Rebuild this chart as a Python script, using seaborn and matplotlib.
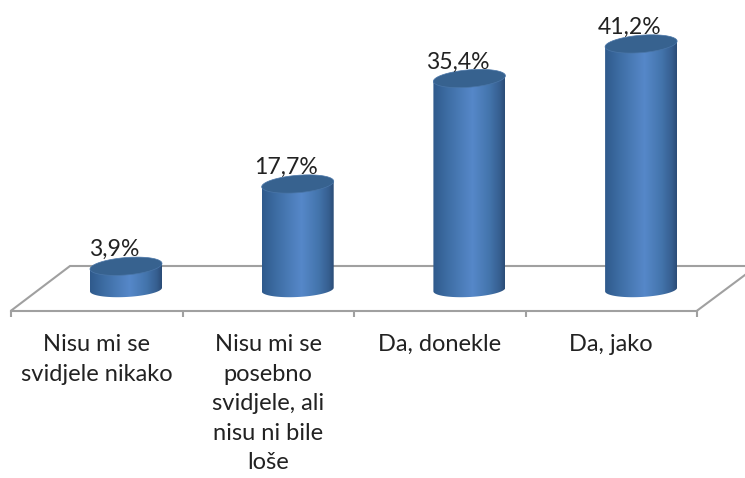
import numpy as np
import matplotlib
matplotlib.use("Agg")
import matplotlib.pyplot as plt
from matplotlib.colors import LinearSegmentedColormap
from matplotlib.patches import Polygon
from matplotlib.ticker import NullFormatter
import seaborn as sns

categories = ["Nisu mi se\nsvidjele nikako",
              "Nisu mi se\nposebno\nsvidjele, ali\nnisu ni bile\nloše",
              "Da, donekle",
              "Da, jako"]
values = [3.9, 17.7, 35.4, 41.2]
value_labels = ["3,9%", "17,7%", "35,4%", "41,2%"]

W, H = 745, 478
sns.set_style("white")
plt.rcParams["font.family"] = ["Lato", "DejaVu Sans"]

fig = plt.figure(figsize=(W / 100, H / 100), dpi=100)
ax = fig.add_axes([0, 0, 1, 1])

# scale: pixels to data
SPACING = 171.7
X0_PX, Y0_PX, PX_PER_UNIT = 126.0, 289.5, 5.96
xp = lambda px: (px - X0_PX) / SPACING
yp = lambda py: (Y0_PX - py) / PX_PER_UNIT

sns.barplot(x=np.arange(len(values)), y=values, native_scale=True,
            width=72 / SPACING, color="#3f6fa8", saturation=1, ax=ax, zorder=2)
ax.set_xlim(xp(0), xp(W))
ax.set_ylim(yp(H), yp(0))
ax.set_xlabel("")
ax.set_ylabel("")

LINE = "#a0a0a0"
LW = 1.5
front = yp(310.7)
back = yp(266)
ax.plot([xp(11), xp(70), xp(760)], [front, back, back], color=LINE, lw=LW, zorder=1, solid_joinstyle="miter")
ax.plot([xp(697), xp(757)], [front, back], color=LINE, lw=LW, zorder=1)

# axis: front edge of the floor
for s in ["top", "left", "right"]:
    ax.spines[s].set_visible(False)
ax.spines["bottom"].set_position(("data", front))
ax.spines["bottom"].set_bounds(xp(11), xp(697))
ax.spines["bottom"].set_color(LINE)
ax.spines["bottom"].set_linewidth(LW)
ax.yaxis.set_visible(False)
bounds_px = np.linspace(11, 697, len(values) + 1)
ax.set_xticks(xp(bounds_px), minor=True)
ax.set_xticks(xp((bounds_px[:-1] + bounds_px[1:]) / 2))
ax.set_xticklabels(categories, fontsize=17, color="#222222", linespacing=1.5)
ax.xaxis.set_minor_formatter(NullFormatter())
ax.tick_params(axis="x", which="major", length=0, pad=17)
ax.tick_params(axis="x", which="minor", length=4.5, width=LW, color=LINE, direction="out", bottom=True)

# cylinders
cmap = LinearSegmentedColormap.from_list("cyl", [
    (0.0, "#2f5a8c"), (0.22, "#3f6fa6"), (0.55, "#5688c9"),
    (0.78, "#4475ad"), (0.93, "#365f90"), (1.0, "#2b4c76")])
grad = np.linspace(0, 1, 256)[None, :]
t = np.linspace(0, 2 * np.pi, 181)
bar_patches = list(ax.patches)
for patch, label in zip(bar_patches, value_labels):
    x0, w, h = patch.get_x(), patch.get_width(), patch.get_height()
    cx, a = x0 + w / 2, w / 2
    b_top, k_top = 8.7 / PX_PER_UNIT, 2.8 / PX_PER_UNIT
    b_bot, k_bot = 7.5 / PX_PER_UNIT, 1.8 / PX_PER_UNIT
    # body outline: top edge plus the lower half of the base ellipse
    tb = np.linspace(np.pi, 2 * np.pi, 91)
    bx = cx + a * np.cos(tb)
    by = b_bot * np.sin(tb) + k_bot * np.cos(tb)
    outline = np.column_stack([
        np.r_[x0, bx, x0 + w],
        np.r_[h - k_top, by, h + k_top]])
    body = Polygon(outline, closed=True, transform=ax.transData, fc="none", ec="none")
    ax.add_patch(body)
    im = ax.imshow(grad, cmap=cmap, aspect="auto", zorder=3, interpolation="bilinear",
                   extent=[x0, x0 + w, by.min() - 1, h + 3])
    im.set_clip_path(body)
    patch.set_visible(False)
    ax.fill(cx + a * np.cos(t), h + b_top * np.sin(t) + k_top * np.cos(t),
            fc="#37628f", ec="#4a76a8", lw=0.5, zorder=4)
    ax.annotate(label, (cx, h), xytext=(-12 * 0.72, 10 * 0.72), textcoords="offset points",
                ha="center", va="baseline", fontsize=16.6, color="#222222", zorder=5)

ax.set_xlim(xp(0), xp(W))
ax.set_ylim(yp(H), yp(0))
fig.savefig("out.png", dpi=100)
